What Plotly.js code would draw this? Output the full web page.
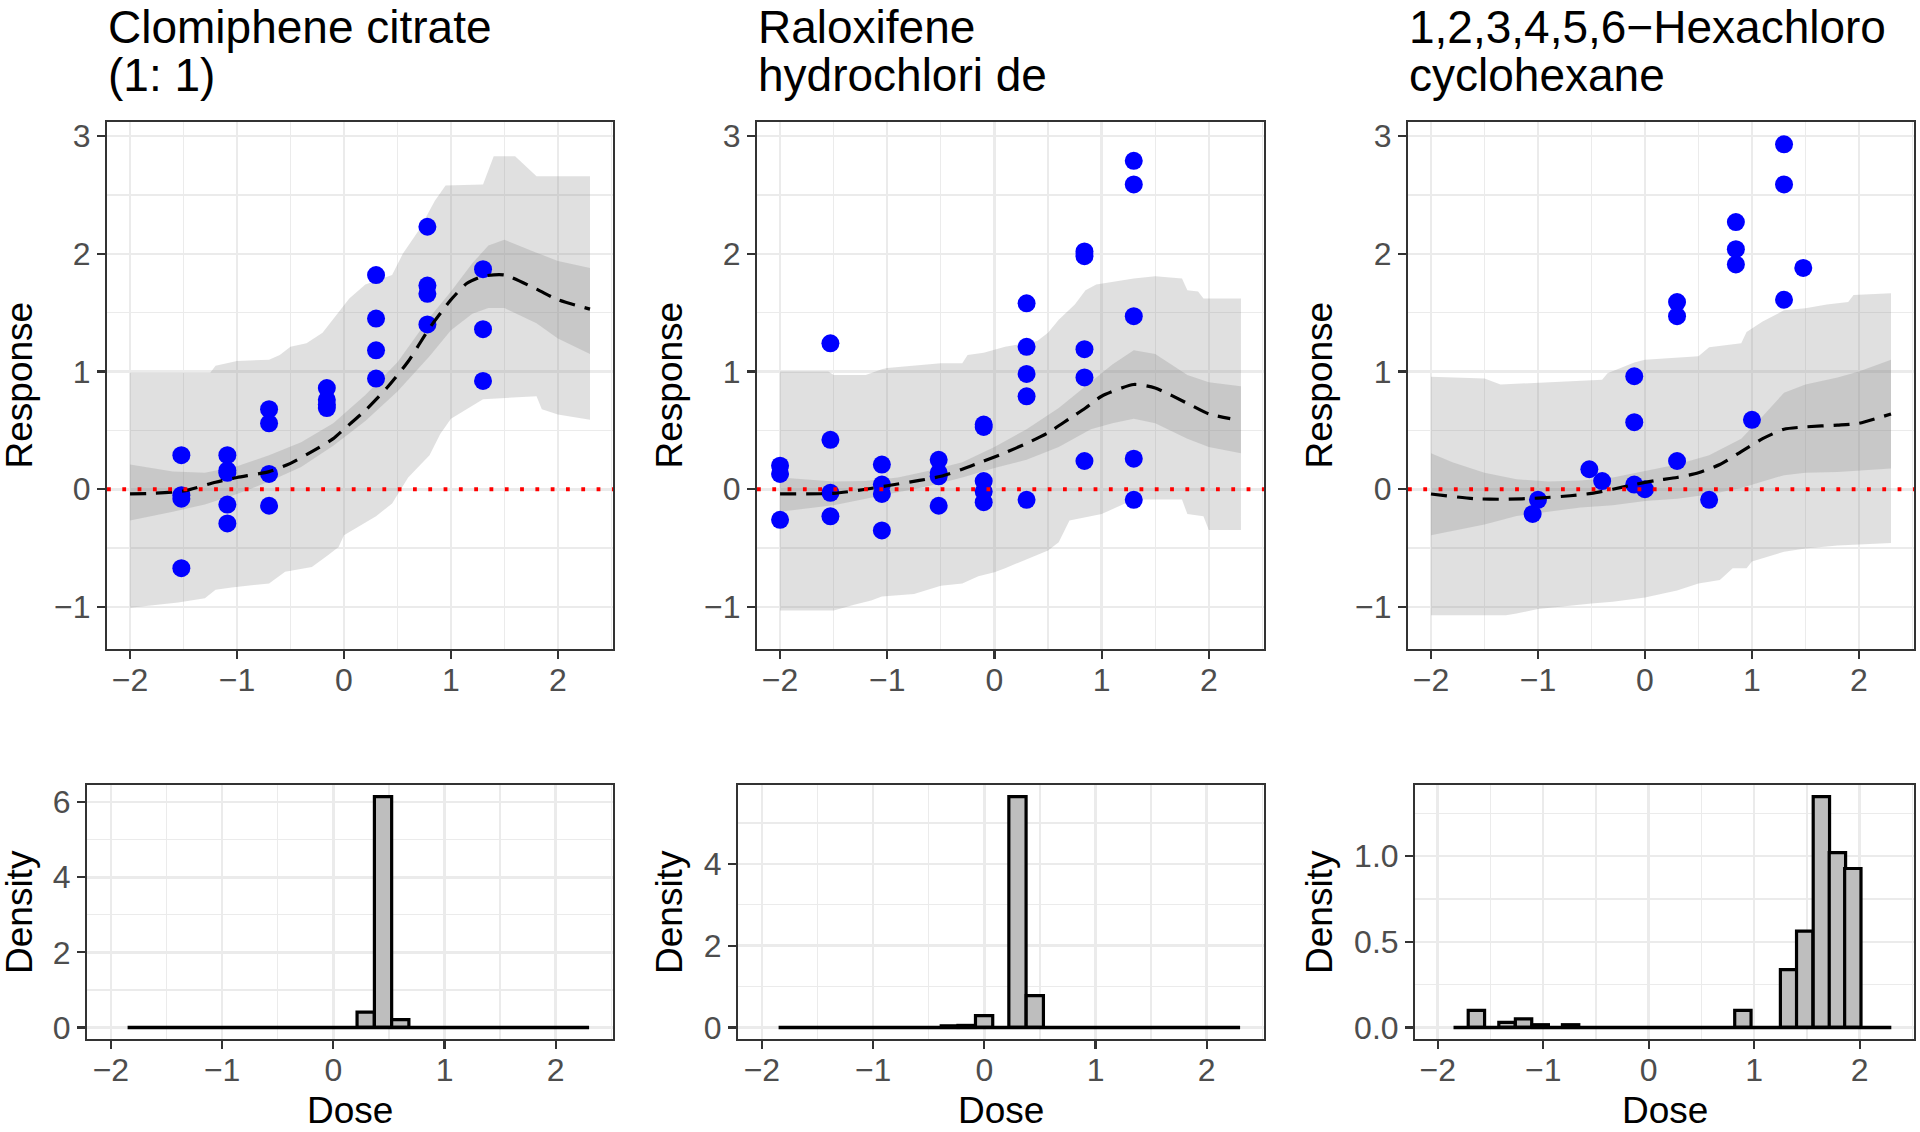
<!DOCTYPE html>
<html>
<head>
<meta charset="utf-8">
<script src="https://cdn.plot.ly/plotly-3.0.1.min.js"></script>
<style>html,body{margin:0;padding:0;background:#fff;}#chart{width:1920px;height:1132px;}</style>
</head>
<body>
<div id="chart"></div>
<script>
// ---------- DATA ----------
const titles1 = ["Clomiphene citrate", "(1: 1)"];
const titles2 = ["Raloxifene", "hydrochlori de"];
const titles3 = ["1,2,3,4,5,6\u2212Hexachloro", "cyclohexane"];

// Panel 1 observed points
const ptX1 = [-1.52,-1.52,-1.52,-1.52, -1.09,-1.09,-1.09,-1.09,-1.09, -0.70,-0.70,-0.70,-0.70, -0.16,-0.16,-0.16,-0.16, 0.30,0.30,0.30,0.30, 0.78,0.78,0.78,0.78, 1.30,1.30,1.30];
const ptY1 = [0.29,-0.05,-0.08,-0.67, 0.29,0.16,0.14,-0.13,-0.29, 0.68,0.56,0.13,-0.14, 0.86,0.76,0.72,0.69, 1.82,1.45,1.18,0.94, 2.23,1.73,1.66,1.40, 1.87,1.36,0.92];
// Panel 1 mean curve
const meanX1 = [-2,-1.8,-1.5,-1.2,-1.0,-0.7,-0.5,-0.3,-0.1,0,0.2,0.4,0.6,0.8,1.0,1.15,1.3,1.5,1.8,2.0,2.3];
const meanY1 = [-0.04,-0.035,-0.015,0.06,0.10,0.15,0.22,0.32,0.43,0.51,0.67,0.86,1.085,1.37,1.61,1.75,1.81,1.82,1.70,1.61,1.53];
// Panel 1 inner band
const inX1 = [-2,-1.6,-1.3,-1.0,-0.7,-0.4,-0.1,0.2,0.5,0.8,1.0,1.2,1.35,1.5,1.8,2.0,2.3];
const inUp1 = [0.21,0.15,0.14,0.195,0.29,0.40,0.56,0.80,1.08,1.46,1.68,1.92,2.07,2.12,2.01,1.94,1.88];
const inLo1 = [-0.265,-0.19,-0.13,-0.04,0.065,0.19,0.37,0.58,0.83,1.13,1.35,1.49,1.54,1.54,1.41,1.28,1.15];
// Panel 1 outer band
const outUpX1 = [-2,-1.25,-1.2,-1.0,-0.7,-0.6,-0.5,-0.35,-0.2,-0.05,0.05,0.2,0.45,0.55,0.7,0.85,0.95,1.3,1.4,1.6,1.8,2.3];
const outUp1 = [0.99,0.99,1.05,1.09,1.10,1.14,1.21,1.24,1.33,1.50,1.62,1.74,1.82,2.0,2.2,2.45,2.58,2.59,2.83,2.83,2.66,2.66];
const outLoX1 = [-2,-1.55,-1.3,-1.2,-1.05,-0.7,-0.55,-0.3,-0.15,-0.05,0,0.3,0.45,0.6,0.8,0.9,1.0,1.3,1.8,1.85,2.0,2.3];
const outLo1 = [-1.007,-0.963,-0.926,-0.853,-0.835,-0.80,-0.70,-0.66,-0.56,-0.49,-0.39,-0.23,-0.12,0.10,0.29,0.47,0.60,0.765,0.79,0.68,0.636,0.59];

// Panel 2
const ptX2 = [-2,-2,-2, -1.53,-1.53,-1.53,-1.53, -1.05,-1.05,-1.05,-1.05, -0.52,-0.52,-0.52,-0.52, -0.10,-0.10,-0.10,-0.10,-0.10, 0.30,0.30,0.30,0.30,0.30, 0.84,0.84,0.84,0.84,0.84, 1.30,1.30,1.30,1.30,1.30];
const ptY2 = [0.20,0.13,-0.26, 1.24,0.42,-0.03,-0.23, 0.21,0.04,-0.04,-0.35, 0.25,0.14,0.11,-0.14, 0.55,0.53,0.07,-0.02,-0.11, 1.58,1.21,0.98,0.79,-0.09, 2.02,1.98,1.19,0.95,0.24, 2.79,2.59,1.47,0.26,-0.09];
const meanX2 = [-2,-1.5,-1.2,-1.0,-0.7,-0.5,-0.3,-0.1,0.1,0.3,0.5,0.7,0.85,1.0,1.3,1.5,1.8,2.0,2.2];
const meanY2 = [-0.04,-0.035,0,0.03,0.075,0.11,0.17,0.24,0.31,0.39,0.48,0.60,0.69,0.79,0.89,0.86,0.73,0.64,0.60];
const inX2 = [-2,-1.5,-1.2,-0.9,-0.6,-0.3,0,0.3,0.6,0.9,1.1,1.3,1.5,1.8,2.0,2.3];
const inUp2 = [0.10,0.066,0.07,0.10,0.16,0.23,0.36,0.51,0.69,0.91,1.06,1.18,1.15,0.97,0.91,0.875];
const inLo2 = [-0.19,-0.136,-0.08,-0.026,0.03,0.10,0.18,0.25,0.36,0.51,0.56,0.60,0.56,0.43,0.36,0.305];
const outUpX2 = [-2,-1.55,-1.5,-1.2,-1.05,-1.0,-0.5,-0.3,-0.25,-0.1,0.1,0.4,0.5,0.6,0.75,0.85,0.95,1.3,1.5,1.75,1.8,1.9,1.95,2.3];
const outUp2 = [1.0,1.0,0.97,0.97,1.02,1.03,1.07,1.07,1.14,1.16,1.21,1.26,1.33,1.44,1.57,1.69,1.74,1.79,1.81,1.79,1.69,1.68,1.62,1.62];
const outLoX2 = [-2,-1.5,-1.3,-1.15,-1.05,-0.75,-0.5,-0.3,-0.15,0,0.1,0.5,0.6,0.7,0.8,1.0,1.3,1.75,1.8,1.95,2.0,2.3];
const outLo2 = [-1.03,-1.03,-0.98,-0.945,-0.91,-0.89,-0.82,-0.80,-0.74,-0.705,-0.67,-0.52,-0.45,-0.265,-0.246,-0.21,-0.088,-0.088,-0.21,-0.23,-0.346,-0.346];

// Panel 3
const ptX3 = [-1.05,-1.0,-0.52,-0.40,-0.10,-0.10,-0.10,0.0,0.30,0.30,0.30,0.60,0.85,0.85,0.85,1.0,1.30,1.30,1.30,1.48];
const ptY3 = [-0.21,-0.09,0.17,0.07,0.96,0.57,0.04,0.0,1.59,1.47,0.24,-0.09,2.27,2.04,1.91,0.59,2.93,2.59,1.61,1.88];
const meanX3 = [-2,-1.6,-1.3,-1.0,-0.7,-0.5,-0.3,-0.1,0.1,0.3,0.5,0.7,0.9,1.1,1.3,1.5,1.8,2.0,2.3];
const meanY3 = [-0.04,-0.08,-0.085,-0.075,-0.055,-0.035,0,0.04,0.075,0.10,0.14,0.21,0.32,0.43,0.51,0.53,0.545,0.56,0.64];
const inX3 = [-2,-1.8,-1.5,-1.2,-0.9,-0.6,-0.3,0,0.3,0.6,0.9,1.1,1.3,1.5,1.8,2.0,2.3];
const inUp3 = [0.305,0.23,0.14,0.085,0.066,0.074,0.10,0.158,0.21,0.29,0.43,0.62,0.82,0.89,0.95,1.0,1.10];
const inLo3 = [-0.39,-0.357,-0.30,-0.228,-0.19,-0.154,-0.136,-0.10,-0.08,-0.044,0.011,0.066,0.12,0.14,0.147,0.158,0.176];
const outUpX3 = [-2,-1.5,-1.35,-0.9,-0.4,-0.35,-0.1,0,0.5,0.6,0.9,0.95,1.1,1.3,1.5,1.7,1.9,1.95,2.3];
const outUp3 = [0.956,0.94,0.89,0.91,0.93,0.985,1.077,1.10,1.13,1.206,1.24,1.335,1.426,1.52,1.537,1.57,1.59,1.65,1.665];
const outLoX3 = [-2,-1.3,-1.2,-1.0,-0.8,-0.5,-0.3,0,0.3,0.5,0.7,0.82,0.95,1.0,1.3,1.5,1.8,2.0,2.3];
const outLo3 = [-1.07,-1.07,-1.055,-1.018,-1.0,-0.97,-0.956,-0.92,-0.86,-0.80,-0.77,-0.67,-0.67,-0.614,-0.53,-0.504,-0.478,-0.467,-0.456];

// Histograms (bin centres, densities)
const binWidth = 0.155;
const histRange = [-1.85, 2.30];
const histX1 = [0.291, 0.447, 0.602];
const histY1 = [0.41, 6.15, 0.21];
const histX2 = [-0.31, -0.16, -0.002, 0.298, 0.454];
const histY2 = [0.04, 0.05, 0.29, 5.645, 0.78];
const histX3 = [-1.633,-1.343,-1.186,-1.028,-0.74,0.893,1.326,1.479,1.637,1.789,1.935];
const histY3 = [0.10,0.03,0.05,0.016,0.016,0.10,0.338,0.5625,1.348,1.021,0.928];

// ---------- LAYOUT HELPERS ----------
const W = 1920, H = 1132;
const FONT = "Liberation Sans, Arial, Helvetica, sans-serif";
const px = v => v / W;
const py = v => 1 - v / H;
const xRange = [-2.215, 2.515];
const yRangeTop = [-1.357, 3.12];

const topY = [649, 122];     // bottom, top in px
const botY = [1039, 785];
const topX = [[107, 613], [757, 1264], [1408, 1914]];
const botX = [[87, 613], [738, 1264], [1415, 1914]];

const traces = [];
const panels = [
  {pX: ptX1, pY: ptY1, mX: meanX1, mY: meanY1, iX: inX1, iU: inUp1, iL: inLo1, oUX: outUpX1, oU: outUp1, oLX: outLoX1, oL: outLo1, hX: histX1, hY: histY1, t: titles1},
  {pX: ptX2, pY: ptY2, mX: meanX2, mY: meanY2, iX: inX2, iU: inUp2, iL: inLo2, oUX: outUpX2, oU: outUp2, oLX: outLoX2, oL: outLo2, hX: histX2, hY: histY2, t: titles2},
  {pX: ptX3, pY: ptY3, mX: meanX3, mY: meanY3, iX: inX3, iU: inUp3, iL: inLo3, oUX: outUpX3, oU: outUp3, oLX: outLoX3, oL: outLo3, hX: histX3, hY: histY3, t: titles3}
];

const layout = {
  width: W, height: H,
  margin: {l: 0, r: 0, t: 0, b: 0},
  paper_bgcolor: '#ffffff', plot_bgcolor: '#ffffff',
  showlegend: false,
  font: {family: FONT, color: '#000000'},
  shapes: [], annotations: []
};

function axisBase(extra) {
  return Object.assign({
    showline: true, mirror: true, linecolor: '#333333', linewidth: 2,
    ticks: 'outside', ticklen: 8, tickwidth: 2.2, tickcolor: '#333333',
    showgrid: true, gridcolor: '#ebebeb', gridwidth: 2.5,
    zeroline: false, fixedrange: true,
    tickfont: {family: FONT, size: 32, color: '#4d4d4d'}
  }, extra);
}

const bandOuter = 'rgba(127,127,127,0.24)';
const bandInner = 'rgba(127,127,127,0.24)';

panels.forEach((p, i) => {
  const tIdx = 2 * i + 1, bIdx = 2 * i + 2;
  const xa = 'x' + tIdx, ya = 'y' + tIdx, xb = 'x' + bIdx, yb = 'y' + bIdx;
  // outer band polygon
  traces.push({type: 'scatter', mode: 'lines', xaxis: xa, yaxis: ya,
    x: p.oUX.concat(p.oLX.slice().reverse()), y: p.oU.concat(p.oL.slice().reverse()),
    fill: 'toself', fillcolor: bandOuter, line: {width: 0, color: 'rgba(0,0,0,0)'}, hoverinfo: 'skip'});
  // inner band polygon
  traces.push({type: 'scatter', mode: 'lines', xaxis: xa, yaxis: ya,
    x: p.iX.concat(p.iX.slice().reverse()), y: p.iU.concat(p.iL.slice().reverse()),
    fill: 'toself', fillcolor: bandInner, line: {width: 0, color: 'rgba(0,0,0,0)'}, hoverinfo: 'skip'});
  // points
  traces.push({type: 'scatter', mode: 'markers', xaxis: xa, yaxis: ya, x: p.pX, y: p.pY,
    marker: {color: '#0000ff', size: 18, line: {width: 0}}});
  // mean dashed curve
  traces.push({type: 'scatter', mode: 'lines', xaxis: xa, yaxis: ya, x: p.mX, y: p.mY,
    line: {color: '#000000', width: 3.2, dash: '16px,10px', shape: 'spline', smoothing: 0.6}});
  // histogram baseline
  traces.push({type: 'scatter', mode: 'lines', xaxis: xb, yaxis: yb, x: histRange, y: [0, 0],
    line: {color: '#000000', width: 3.4}});
  // histogram bars
  traces.push({type: 'bar', xaxis: xb, yaxis: yb, x: p.hX, y: p.hY, width: binWidth,
    marker: {color: '#bebebe', line: {color: '#000000', width: 3.2}}});

  const hmax = Math.max.apply(null, p.hY);
  const yRangeBot = [-0.05 * hmax, 1.05 * hmax];
  const botDtick = hmax > 3 ? 2 : 0.5;

  const minorGrid = d => ({dtick: d, showgrid: true, gridcolor: '#ebebeb', gridwidth: 1.3});
  layout['xaxis' + tIdx] = axisBase({domain: [px(topX[i][0]), px(topX[i][1])], anchor: ya, range: xRange,
    dtick: 1, tick0: 0, ticklabelstandoff: -6, minor: minorGrid(0.5)});
  layout['yaxis' + tIdx] = axisBase({domain: [py(topY[0]), py(topY[1])], anchor: xa, range: yRangeTop,
    dtick: 1, tick0: 0, minor: minorGrid(0.5)});
  layout['xaxis' + bIdx] = axisBase({domain: [px(botX[i][0]), px(botX[i][1])], anchor: yb, range: xRange,
    dtick: 1, tick0: 0, ticklabelstandoff: -6, minor: minorGrid(0.5)});
  layout['yaxis' + bIdx] = axisBase({domain: [py(botY[0]), py(botY[1])], anchor: xb, range: yRangeBot,
    dtick: botDtick, tick0: 0, tickformat: hmax > 3 ? 'd' : '.1f', minor: minorGrid(botDtick / 2)});

  // red dotted zero line
  layout.shapes.push({type: 'line', xref: xa + ' domain', yref: ya, x0: 0, x1: 1, y0: 0, y1: 0,
    line: {color: '#ff0000', width: 3.8, dash: '3.8px,11.5px'}});

  // titles
  layout.annotations.push({xref: 'paper', yref: 'paper', x: px(topX[i][0] - 1), y: py(27), xanchor: 'left', yanchor: 'middle',
    text: p.t[0], showarrow: false, font: {family: FONT, size: 46, color: '#000000'}});
  layout.annotations.push({xref: 'paper', yref: 'paper', x: px(topX[i][0] - 1), y: py(75), xanchor: 'left', yanchor: 'middle',
    text: p.t[1], showarrow: false, font: {family: FONT, size: 46, color: '#000000'}});
});

// axis titles
const yTitleX = [19, 669, 1319];
yTitleX.forEach((xx, i) => {
  layout.annotations.push({xref: 'paper', yref: 'paper', x: px(xx), y: py((topY[0] + topY[1]) / 2),
    xanchor: 'center', yanchor: 'middle', textangle: -90, text: 'Response', showarrow: false,
    font: {family: FONT, size: 37, color: '#000000'}});
  layout.annotations.push({xref: 'paper', yref: 'paper', x: px(xx), y: py((botY[0] + botY[1]) / 2),
    xanchor: 'center', yanchor: 'middle', textangle: -90, text: 'Density', showarrow: false,
    font: {family: FONT, size: 37, color: '#000000'}});
  layout.annotations.push({xref: 'paper', yref: 'paper', x: px((botX[i][0] + botX[i][1]) / 2), y: py(1110),
    xanchor: 'center', yanchor: 'middle', text: 'Dose', showarrow: false,
    font: {family: FONT, size: 37, color: '#000000'}});
});

Plotly.newPlot('chart', traces, layout, {staticPlot: true, displayModeBar: false});
</script>
</body>
</html>
